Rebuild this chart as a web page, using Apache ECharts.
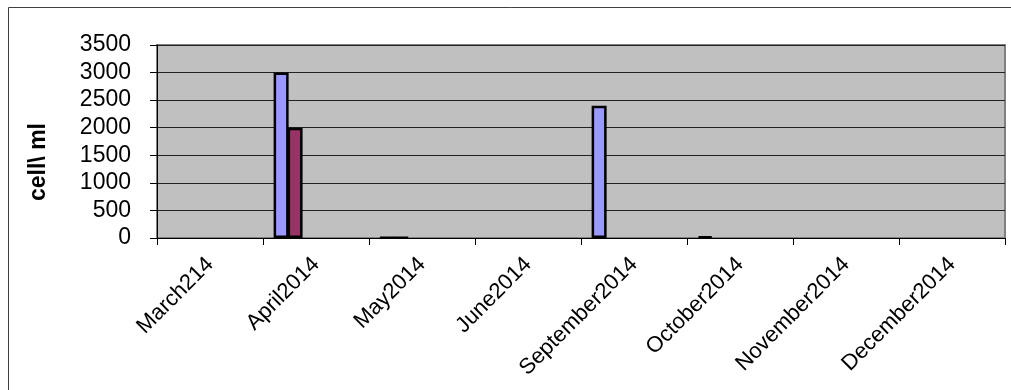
<!DOCTYPE html>
<html>
<head>
<meta charset="utf-8">
<script src="https://cdn.jsdelivr.net/npm/echarts@6/dist/echarts.min.js"></script>
<style>
  html, body { margin: 0; padding: 0; background: #fff; }
  #chart { width: 1011px; height: 390px; }
</style>
</head>
<body>
<div id="chart"></div>
<script>
// Monthly counts (cell\ ml)
const months = ['March214', 'April2014', 'May2014', 'June2014', 'September2014', 'October2014', 'November2014', 'December2014'];
const seriesA = [null, 3000, 10, null, 2400, 30, null, null];
const seriesB = [null, 2000, 10, null, null, null, null, null];
// remaining columns of the cluster hold no readings
const seriesC = [];
const seriesD = [];
const seriesE = [];
const seriesF = [];
const yTicks = { min: 0, max: 3500, interval: 500 };

const FONT = '"Liberation Sans", Arial, sans-serif';
const chart = echarts.init(document.getElementById('chart'), null, { renderer: 'canvas' });

const mkSeries = (name, data, color) => ({
  name: name,
  type: 'bar',
  data: data,
  barWidth: 15,
  barGap: '-7%',
  itemStyle: { color: color, borderColor: '#000', borderWidth: 2.5 },
  silent: true,
  animation: false
});

chart.setOption({
  animation: false,
  backgroundColor: '#fff',
  grid: {
    left: 157, top: 45, right: 6, bottom: 152,
    show: true,
    backgroundColor: '#c0c0c0',
    borderColor: '#808080',
    borderWidth: 2
  },
  graphic: [
    {
      type: 'rect',
      shape: { x: 8.5, y: 7.5, width: 1100, height: 500 },
      style: { fill: 'none', stroke: '#404040', lineWidth: 1 },
      silent: true
    },
    {
      type: 'text',
      x: 39, y: 162,
      rotation: Math.PI / 2,
      style: {
        text: 'cell\\ ml',
        font: 'bold 23px "Liberation Sans", Arial, sans-serif',
        fill: '#000',
        align: 'center',
        verticalAlign: 'middle'
      },
      silent: true
    }
  ],
  xAxis: {
    type: 'category',
    data: months,
    boundaryGap: true,
    axisLine: { show: true, lineStyle: { color: '#000', width: 1 } },
    axisTick: { show: true, length: 7, lineStyle: { color: '#000' } },
    axisLabel: {
      rotate: 45,
      interval: 0,
      margin: 23,
      color: '#000',
      fontSize: 22,
      fontFamily: FONT
    },
    splitLine: { show: false }
  },
  yAxis: {
    type: 'value',
    min: yTicks.min,
    max: yTicks.max,
    interval: yTicks.interval,
    axisLine: { show: true, lineStyle: { color: '#000', width: 1 } },
    axisTick: { show: true, length: 7, lineStyle: { color: '#000' } },
    axisLabel: {
      margin: 26,
      color: '#000',
      fontSize: 23,
      fontFamily: FONT,
      formatter: (v) => String(v)
    },
    splitLine: { show: true, lineStyle: { color: '#222', width: 1 } }
  },
  series: [
    mkSeries('A', seriesA, '#9999ff'),
    mkSeries('B', seriesB, '#993366'),
    mkSeries('C', seriesC, '#ffffcc'),
    mkSeries('D', seriesD, '#ccffff'),
    mkSeries('E', seriesE, '#660066'),
    mkSeries('F', seriesF, '#ff8080')
  ]
});
</script>
</body>
</html>
